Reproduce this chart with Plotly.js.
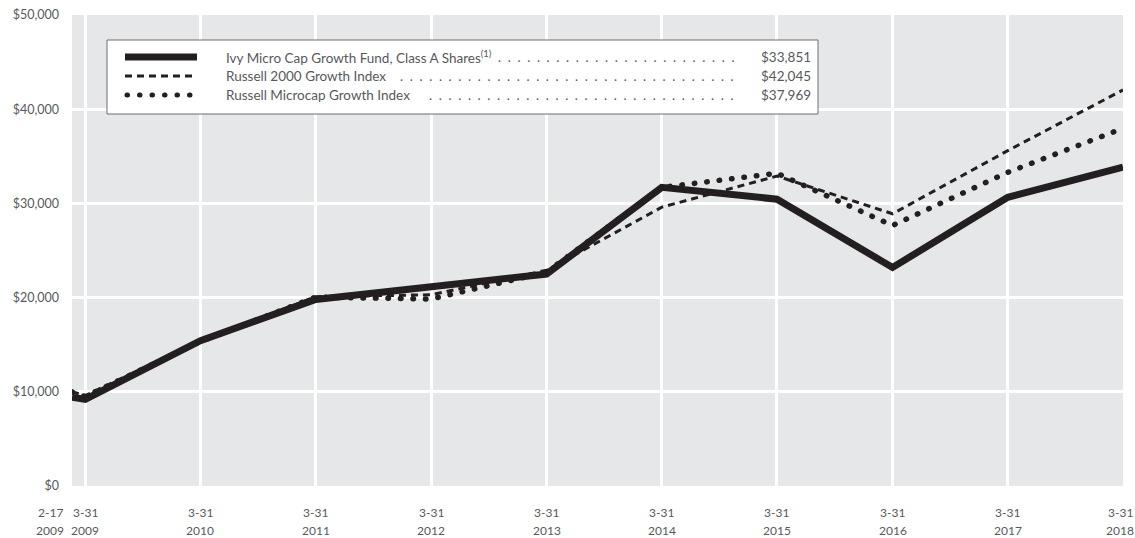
<!DOCTYPE html>
<html>
<head>
<meta charset="utf-8">
<script src="https://cdn.plot.ly/plotly-3.0.1.min.js"></script>
<style>html,body{margin:0;padding:0;background:#fff;}#chart{width:1135px;height:538px;}</style>
</head>
<body>
<div id="chart"></div>
<script>
// ---- data ----
const dates = ['2009-02-17','2009-03-31','2010-03-31','2011-03-31','2012-03-31','2013-03-31','2014-03-31','2015-03-31','2016-03-31','2017-03-31','2018-03-31'];
const fundValues   = [9425, 9200, 15430, 19800, 21150, 22500, 31700, 30450, 23200, 30650, 33851];
const r2000Values  = [10000, 9600, 15400, 20100, 20300, 22900, 29600, 32900, 28900, 35600, 42045];
const microValues  = [10000, 9500, 15350, 20050, 19850, 22700, 31700, 33200, 27650, 33300, 37969];
const seriesNames  = ['Ivy Micro Cap Growth Fund, Class A Shares<sup>(1)</sup>', 'Russell 2000 Growth Index', 'Russell Microcap Growth Index'];
const endingLabels = ['$33,851', '$42,045', '$37,969'];
const tickDates  = ['2009-02-17','2009-03-31','2010-03-31','2011-03-31','2012-03-31','2013-03-31','2014-03-31','2015-03-31','2016-03-31','2017-03-31','2018-03-31'];
const tickDays   = ['2-17','3-31','3-31','3-31','3-31','3-31','3-31','3-31','3-31','3-31','3-31'];
const tickYears  = ['2009','2009','2010','2011','2012','2013','2014','2015','2016','2017','2018'];
const gridDates  = tickDates.slice(1);
const yTicks = [0, 10000, 20000, 30000, 40000, 50000];
const yTickText = ['$0', '$10,000', '$20,000', '$30,000', '$40,000', '$50,000'];

// ---- layout constants ----
const W = 1135, H = 538;
const M = {l: 72, r: 12, t: 15, b: 52};
const PW = W - M.l - M.r, PH = H - M.t - M.b;
const px = x => (x - M.l) / PW;
const py = y => (H - M.b - y) / PH;

const INK = '#231f20';
const TXT = '#58595b';
const FONT = 'Lato, "Open Sans", sans-serif';
const DOTDASH = '0.5px,12px';
const xRange = [dates[0], dates[dates.length - 1]];

const traces = [
  {x: dates, y: r2000Values, type: 'scatter', mode: 'lines', name: seriesNames[1],
   line: {color: INK, width: 3, dash: '7px,5px'}, hoverinfo: 'skip'},
  {x: dates, y: microValues, type: 'scatter', mode: 'lines', name: seriesNames[2],
   line: {color: INK, width: 5.5, dash: DOTDASH}, hoverinfo: 'skip'},
  {x: dates, y: fundValues, type: 'scatter', mode: 'lines', name: seriesNames[0],
   line: {color: INK, width: 7}, hoverinfo: 'skip'}
];

// legend built from shapes + annotations
const rowY = [57, 76, 95];
const leaderCounts = [25, 35, 32];
const shapes = [
  {type: 'rect', xref: 'paper', yref: 'paper', x0: px(107), x1: px(818), y0: py(40), y1: py(114),
   fillcolor: '#ffffff', line: {color: '#6d6e71', width: 1}, layer: 'above'},
  {type: 'line', xref: 'paper', yref: 'paper', x0: px(125), x1: px(197), y0: py(rowY[0]), y1: py(rowY[0]),
   line: {color: INK, width: 7}, layer: 'above'},
  {type: 'line', xref: 'paper', yref: 'paper', x0: px(125), x1: px(197), y0: py(rowY[1]), y1: py(rowY[1]),
   line: {color: INK, width: 3, dash: '7px,5px'}, layer: 'above'},
  {type: 'line', xref: 'paper', yref: 'paper', x0: px(127), x1: px(197), y0: py(rowY[2]), y1: py(rowY[2]),
   line: {color: INK, width: 5, dash: '0.5px,12px'}, layer: 'above'}
];
const annotations = [];
for (let i = 0; i < 3; i++) {
  annotations.push({xref: 'paper', yref: 'paper', x: px(224), y: py(rowY[i]), xanchor: 'left', yanchor: 'middle',
    text: seriesNames[i], showarrow: false, font: {family: FONT, size: 13.5, color: TXT}});
  annotations.push({xref: 'paper', yref: 'paper', x: px(736), y: py(rowY[i]), xanchor: 'right', yanchor: 'middle',
    text: Array(leaderCounts[i]).fill('.').join('\u00a0\u00a0'), showarrow: false, font: {family: FONT, size: 13, color: TXT}});
  annotations.push({xref: 'paper', yref: 'paper', x: px(813), y: py(rowY[i]), xanchor: 'right', yanchor: 'middle',
    text: endingLabels[i], showarrow: false, font: {family: FONT, size: 13.5, color: TXT}});
}
// x tick labels (two rows) placed at the tick dates
tickDates.forEach((d, i) => {
  const shift = i === 0 ? -22 : (i === tickDates.length - 1 ? -3 : 0);
  annotations.push({x: d, xref: 'x', yref: 'paper', y: py(512), yanchor: 'middle', xanchor: 'center', xshift: shift,
    text: tickDays[i], showarrow: false, font: {family: FONT, size: 12, color: TXT}});
  annotations.push({x: d, xref: 'x', yref: 'paper', y: py(530), yanchor: 'middle', xanchor: 'center', xshift: shift,
    text: tickYears[i], showarrow: false, font: {family: FONT, size: 12, color: TXT}});
});

const layout = {
  width: W, height: H,
  margin: M,
  paper_bgcolor: '#ffffff',
  plot_bgcolor: '#e6e7e8',
  showlegend: false,
  font: {family: FONT, size: 12, color: TXT},
  xaxis: {
    type: 'date', range: xRange,
    tickmode: 'array', tickvals: gridDates, showticklabels: false,
    showgrid: true, gridcolor: '#ffffff', gridwidth: 3, zeroline: false, showline: false, ticks: ''
  },
  yaxis: {
    range: [0, 50000], tickmode: 'array', tickvals: yTicks, ticktext: yTickText,
    showgrid: true, gridcolor: '#ffffff', gridwidth: 3, zeroline: false, showline: false,
    ticks: '', ticklabelstandoff: 12, tickfont: {family: FONT, size: 12.5, color: TXT}
  },
  shapes: shapes,
  annotations: annotations
};

Plotly.newPlot('chart', traces, layout, {staticPlot: true}).then(gd => {
  gd.querySelectorAll('path').forEach(p => {
    const s = p.getAttribute('style') || '';
    if (s.indexOf('0.5px') !== -1) p.style.strokeLinecap = 'round';
  });
});
</script>
</body>
</html>
